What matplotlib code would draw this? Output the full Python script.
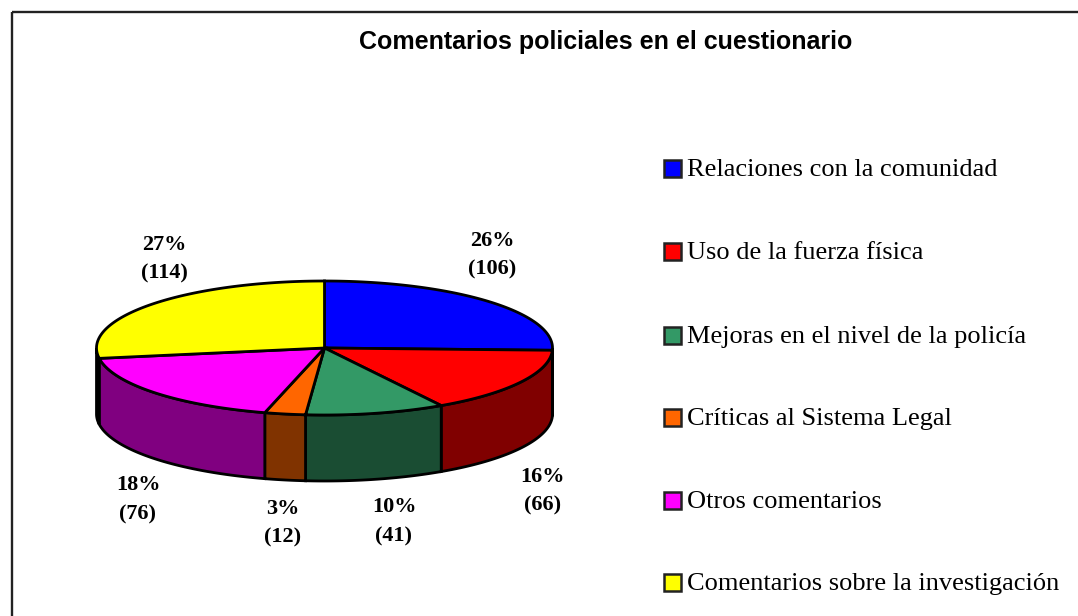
"""
Comentarios policiales en el cuestionario: 3D-look pie with a side legend.
"""

import numpy as np
import matplotlib
matplotlib.use("Agg")
import matplotlib.pyplot as plt
from matplotlib.patches import Polygon, Rectangle

categories = [
    "Relaciones con la comunidad",
    "Uso de la fuerza física",
    "Mejoras en el nivel de la policía",
    "Críticas al Sistema Legal",
    "Otros comentarios",
    "Comentarios sobre la investigación",
]
counts = [106, 66, 41, 12, 76, 114]
percents = [26, 16, 10, 3, 18, 27]
top_colors = ["#0000FF", "#FF0000", "#339966", "#FF6600", "#FF00FF", "#FFFF00"]
side_colors = ["#000080", "#800000", "#1A4D33", "#803300", "#800080", "#808000"]
title = "Comentarios policiales en el cuestionario"

W, H = 1078, 616
CX, CY = 324.5, 348
RX, RY = 228, 67
DEPTH = 66
LW = 2.0

plt.rcParams["font.family"] = ["Liberation Serif", "DejaVu Serif"]

fig = plt.figure(figsize=(W / 100, H / 100), dpi=100)
ax = fig.add_axes([0, 0, 1, 1])
ax.set_xlim(0, W)
ax.set_ylim(H, 0)  # pixel coords, y down
ax.axis("off")

# outer chart frame, runs off the bottom and right of the picture
ax.add_patch(Rectangle((12, 12), W, H, fill=False, ec="#222222", lw=1.7))


def rim(a0, a1, n=120):
    t = np.radians(np.linspace(a0, a1, n))
    return CX + RX * np.cos(t), CY - RY * np.sin(t)


# slice angles, clockwise from 12 o'clock
total = sum(counts)
edges = 90 - 360 * np.cumsum([0] + counts) / total

# side walls, only the front half of the rim shows
for i in range(len(counts)):
    a0, a1 = edges[i], edges[i + 1]
    for lo, hi in [(-180, 0), (-540, -360)]:
        s, e = max(a1, lo), min(a0, hi)
        if s >= e:
            continue
        x, y = rim(e, s)
        pts = np.r_[np.c_[x, y], np.c_[x[::-1], y[::-1] + DEPTH]]
        ax.add_patch(Polygon(pts, fc=side_colors[i], ec="black", lw=LW, zorder=2))

# top face
for i in range(len(counts)):
    x, y = rim(edges[i], edges[i + 1])
    pts = np.r_[[[CX, CY]], np.c_[x, y]]
    ax.add_patch(Polygon(pts, fc=top_colors[i], ec="black", lw=LW, zorder=3))

# slice labels
label_pos = [(492, 255), (543, 491), (394, 522), (283, 523), (138, 500), (164, 259)]
for p, c, (lx, ly) in zip(percents, counts, label_pos):
    ax.text(lx, ly, f"{p}%\n({c})", ha="center", va="center", fontsize=16,
            fontweight="bold", linespacing=1.6)

ax.text(606, 42, title, ha="center", va="center", fontsize=18, fontweight="bold",
        family=["Liberation Sans"])

# legend
legend_y = [168, 251, 335, 417, 500, 582]
for name, col, ly in zip(categories, top_colors, legend_y):
    ax.add_patch(Rectangle((664, ly - 8), 17, 17, fc=col, ec="#222222", lw=1.8))
    ax.text(687, ly + 2, name, ha="left", va="center", fontsize=19)

fig.savefig("out.png", dpi=100)
